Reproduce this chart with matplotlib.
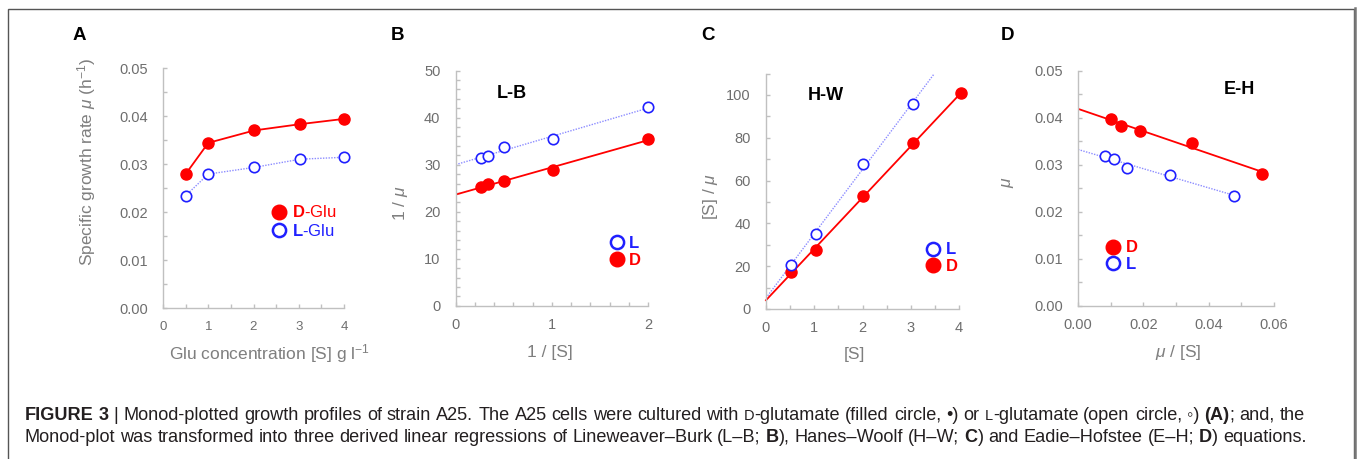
import numpy as np
import matplotlib
matplotlib.use("Agg")
import matplotlib.pyplot as plt
from matplotlib.ticker import MultipleLocator, FormatStrFormatter
from matplotlib.lines import Line2D
from matplotlib.patches import Rectangle

W, H = 1357, 459

# ---- data ----
# A: Monod plot
glu_S = [0.5, 1.0, 2.02, 3.03, 4.0]
mu_D = [0.0279, 0.0344, 0.0370, 0.0383, 0.0394]
mu_L = [0.0234, 0.0279, 0.0293, 0.0310, 0.0314]

# B: Lineweaver-Burk
lb_x = [0.26, 0.34, 0.50, 1.01, 2.0]
lb_D = [25.2, 26.0, 26.5, 28.8, 35.5]
lb_L = [31.4, 31.9, 33.8, 35.5, 42.2]

# C: Hanes-Woolf
hw_x_D = [0.51, 1.03, 2.02, 3.05, 4.05]
hw_D = [17.1, 27.6, 52.8, 77.6, 101.0]
hw_x_L = [0.51, 1.03, 2.02, 3.05]
hw_L = [20.6, 34.9, 67.8, 95.9]

# D: Eadie-Hofstee
eh_x_D = [0.0101, 0.0131, 0.0191, 0.0350, 0.0562]
eh_D = [0.0397, 0.0382, 0.0371, 0.0347, 0.0280]
eh_x_L = [0.0082, 0.0110, 0.0149, 0.0283, 0.0477]
eh_L = [0.0318, 0.0313, 0.0293, 0.0279, 0.0234]

CAP1 = ("*FIGURE 3* | Monod-plotted growth profiles of strain A25. The A25 cells were cultured "
        "with ^D-glutamate (filled circle, \u2022) or ^L-glutamate (open circle, \u25e6) *(A)*; and, the")
CAP2 = ("Monod-plot was transformed into three derived linear regressions of Lineweaver\u2013Burk "
        "(L\u2013B; *B*), Hanes\u2013Woolf (H\u2013W; *C*) and Eadie\u2013Hofstee (E\u2013H; *D*) equations.")

plt.rcParams['font.family'] = ['Liberation Sans', 'DejaVu Sans']
plt.rcParams['mathtext.fontset'] = 'custom'
plt.rcParams['mathtext.rm'] = 'Liberation Sans'
plt.rcParams['mathtext.it'] = 'Liberation Sans:italic'
plt.rcParams['mathtext.bf'] = 'Liberation Sans:bold'

CAP_FONT = ['Liberation Sans', 'DejaVu Sans']

RED = '#ff0000'
BLUE = '#2020ff'
BLUE_LINE = '#8c8cff'
SPINE = '#c0c0c0'
TICKLAB = '#6e6e6e'
LABEL = '#7f7f7f'
CAP_COL = '#231f20'

fig = plt.figure(figsize=(W / 100, H / 100), dpi=100)


def fx(x):
    return x / W


def fy(y):
    return 1 - y / H


def make_axes(box, xlim, ylim, xmaj, xmin, ymaj, ymin, xfmt, yfmt, xsize=10.5):
    left, top, right, bottom = box
    ax = fig.add_axes([fx(left), fy(bottom), (right - left) / W, (bottom - top) / H])
    ax.set_xlim(xlim)
    ax.set_ylim(ylim)
    for s in ['top', 'right']:
        ax.spines[s].set_visible(False)
    for s in ['left', 'bottom']:
        ax.spines[s].set_color(SPINE)
        ax.spines[s].set_linewidth(1)
    ax.xaxis.set_major_locator(MultipleLocator(xmaj))
    ax.xaxis.set_minor_locator(MultipleLocator(xmin))
    ax.yaxis.set_major_locator(MultipleLocator(ymaj))
    ax.yaxis.set_minor_locator(MultipleLocator(ymin))
    ax.xaxis.set_major_formatter(FormatStrFormatter(xfmt))
    ax.yaxis.set_major_formatter(FormatStrFormatter(yfmt))
    ax.tick_params(which='both', direction='in', length=3, width=1, color=SPINE,
                   labelcolor=TICKLAB, labelsize=10.5)
    ax.tick_params(axis='x', pad=9, labelsize=xsize)
    ax.tick_params(axis='y', pad=11)
    ax.patch.set_alpha(0)
    return ax


def filled(ax, x, y, **kw):
    ax.plot(x, y, 'o', ms=8, mfc=RED, mec=RED, clip_on=False, zorder=4, **kw)


def hollow(ax, x, y, **kw):
    ax.plot(x, y, 'o', ms=7.5, mfc='white', mec=BLUE, mew=1.2, clip_on=False, zorder=4, **kw)


def fit_line(ax, x, y, x_end, color, ls, lw, clip=True):
    coef = np.polyfit(x, y, 1)
    xx = np.array([0.0, x_end])
    ax.plot(xx, np.polyval(coef, xx), color=color, ls=ls, lw=lw, zorder=2, clip_on=clip)


def add_legend(ax, entries, marker_x, y1, y2, text_x, fs=12):
    fs_px = fs * 100 / 72
    hl = 1.0
    left = marker_x - hl * fs_px / 2
    pad = (text_x - left - hl * fs_px) / fs_px
    gap = y2 - y1
    handles, labels, colors = [], [], []
    for lab, kind in entries:
        if kind == 'D':
            handles.append(Line2D([], [], ls='none', marker='o', ms=10.5, mfc=RED, mec=RED))
            colors.append(RED)
        else:
            handles.append(Line2D([], [], ls='none', marker='o', ms=9.5, mfc='white', mec=BLUE, mew=1.8))
            colors.append(BLUE)
        labels.append(lab)
    ax.legend(handles, labels, loc='center left', bbox_to_anchor=(fx(left), fy((y1 + y2) / 2)),
              bbox_transform=fig.transFigure, frameon=False, borderpad=0, borderaxespad=0,
              handlelength=hl, handletextpad=pad, labelspacing=(gap - 1.17 * fs_px) / fs_px,
              prop={'size': fs, 'weight': 'bold'}, labelcolor=colors)


# ---- A ----
axA = make_axes((163, 68, 344, 308), (0, 4), (0, 0.05), 1, 0.5, 0.01, 0.005, '%d', '%.2f', xsize=9.5)
axA.plot(glu_S, mu_D, color=RED, lw=1.3, zorder=2)
axA.plot(glu_S, mu_L, color=BLUE_LINE, lw=1.0, ls=(0, (1, 1)), zorder=2)
filled(axA, glu_S, mu_D)
hollow(axA, glu_S, mu_L)
add_legend(axA, [(r'$\mathbf{D}$-Glu', 'D'), (r'$\mathbf{L}$-Glu', 'L')], 279, 210.7, 232.3, 292)
for t in axA.get_legend().get_texts():
    t.set_fontweight('normal')

# ---- B ----
axB = make_axes((455.7, 70.7, 648, 305.7), (0, 2), (0, 50), 1, 0.2, 10, 2, '%d', '%d')
fit_line(axB, lb_x, lb_D, max(lb_x), RED, '-', 1.3)
fit_line(axB, lb_x, lb_L, max(lb_x), BLUE_LINE, (0, (1, 1)), 1.0)
filled(axB, lb_x, lb_D)
hollow(axB, lb_x, lb_L)
add_legend(axB, [('L', 'L'), ('D', 'D')], 617.3, 241, 262.7, 629)

# ---- C ----
axC = make_axes((766, 73.6, 959, 309), (0, 4), (0, 110), 1, 0.5, 20, 10, '%d', '%d')
fit_line(axC, hw_x_D, hw_D, max(hw_x_D), RED, '-', 1.3, clip=False)
fit_line(axC, hw_x_L, hw_L, 4.0, BLUE_LINE, (0, (1, 1)), 1.0)
filled(axC, hw_x_D, hw_D)
hollow(axC, hw_x_L, hw_L)
add_legend(axC, [('L', 'L'), ('D', 'D')], 932.7, 247.7, 268.3, 946)

# ---- D ----
axD = make_axes((1078, 70.7, 1274, 305.7), (0, 0.06), (0, 0.05), 0.02, 0.01, 0.01, 0.005, '%.2f', '%.2f')
fit_line(axD, eh_x_D, eh_D, max(eh_x_D), RED, '-', 1.3)
fit_line(axD, eh_x_L, eh_L, max(eh_x_L), BLUE_LINE, (0, (1, 1)), 1.0)
filled(axD, eh_x_D, eh_D)
hollow(axD, eh_x_L, eh_L)
add_legend(axD, [('D', 'D'), ('L', 'L')], 1113.3, 245.7, 266.7, 1126)

# ---- panel letters, titles, axis labels ----
for letter, x in [('A', 79), ('B', 398), ('C', 708), ('D', 1008)]:
    fig.text(fx(x), fy(36), letter, fontsize=13.5, fontweight='bold', ha='center', va='center', color='black')
for title, x, y in [('L-B', 511.7, 93), ('H-W', 825.5, 96), ('E-H', 1239, 89)]:
    fig.text(fx(x), fy(y), title, fontsize=13, fontweight='bold', ha='center', va='center', color='black')

ylabels = [(r'Specific growth rate $\mu$ (h$^{-1}$)', 87, 162),
           (r'1 / $\mu$', 400, 203),
           (r'[S] / $\mu$', 710, 197),
           (r'$\mu$', 1008, 182)]
for txt, x, y in ylabels:
    fig.text(fx(x), fy(y), txt, fontsize=12.5, color=LABEL, rotation=90, ha='center', va='center')

xlabels = [(r'Glu concentration [S] g l$^{-1}$', 269, 354),
           (r'1 / [S]', 550, 353),
           (r'[S]', 854, 354),
           (r'$\mu$ / [S]', 1178, 353)]
for txt, x, y in xlabels:
    fig.text(fx(x), fy(y), txt, fontsize=12.5, color=LABEL, ha='center', va='center')

# ---- border ----
fig.add_artist(Rectangle((fx(7.5), -0.05), (1354 - 7.5) / W, 1.05 - 8.5 / H, transform=fig.transFigure,
                         fill=False, ec='#555555', lw=1))
fig.add_artist(Line2D([fx(1354.5), fx(1354.5)], [-0.05, fy(8)], transform=fig.transFigure,
                      color='#777777', lw=1.8))

# ---- caption ----
renderer = fig.canvas.get_renderer()


def put(x, y, s, weight, size, arts):
    t = fig.text(fx(x), fy(y), s, fontsize=size, fontweight=weight, family=CAP_FONT,
                 color=CAP_COL, ha='left', va='baseline')
    arts.append(t)
    return t.get_window_extent(renderer).width


def space_width(weight, size):
    tmp = []
    a = put(0, 0, 'a a', weight, size, tmp)
    b = put(0, 0, 'aa', weight, size, tmp)
    for t in tmp:
        t.remove()
    return a - b


def caption_line(x0, y, text, size, arts):
    sp = {w: space_width(w, size) for w in ('normal', 'bold')}
    x = x0
    for i, seg in enumerate(text.split('*')):
        weight = 'bold' if i % 2 else 'normal'
        for j, word in enumerate(seg.split(' ')):
            if j:
                x += sp[weight]
            for k, part in enumerate(word.split('^')):
                if not part:
                    continue
                if k:
                    x += put(x, y, part[0], weight, size * 0.8, arts) + 0.5
                    part = part[1:]
                    if not part:
                        continue
                x += put(x, y, part, weight, size, arts)
    return x


arts = []
end = caption_line(25, 419.5, CAP1, 12, arts)
size = 12 * (1312 - 25) / (end - 25)
for t in arts:
    t.remove()
arts = []
caption_line(25, 419.5, CAP1, size, arts)
caption_line(25, 442.5, CAP2, size, arts)

fig.savefig('out.png', dpi=100)
